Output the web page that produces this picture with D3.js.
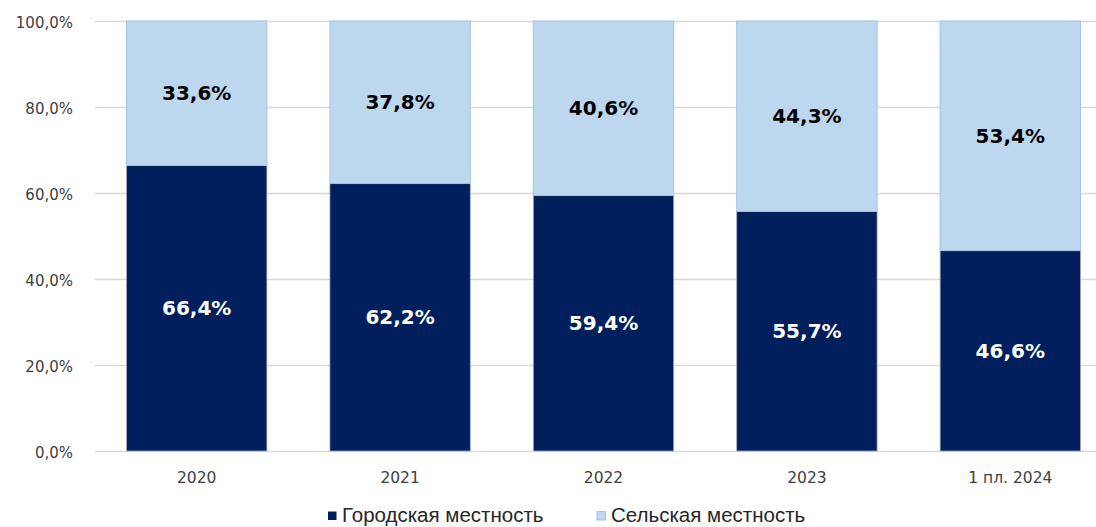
<!DOCTYPE html>
<html>
<head>
<meta charset="utf-8">
<script src="https://cdn.jsdelivr.net/npm/d3@7"></script>
<style>
  body { margin: 0; background: #fff; }
  svg { display: block; }
</style>
</head>
<body>
<svg id="chart" width="1096" height="527"></svg>
<script>
// data
var categories = ["2020", "2021", "2022", "2023", "1 пл. 2024"];
var urban = [66.4, 62.2, 59.4, 55.7, 46.6];   // Городская местность
var rural = [33.6, 37.8, 40.6, 44.3, 53.4];   // Сельская местность
var seriesNames = ["Городская местность", "Сельская местность"];
var yTicks = [0, 20, 40, 60, 80, 100];

var svg = d3.select("#chart");
// note: "top" is taken by window.top, so use plotTop
var plotTop = 21, plotBottom = 451, plotLeft = 95, plotRight = 1112;

var x = d3.scaleBand()
    .domain(categories)
    .range([plotLeft, plotRight])
    .paddingInner(0.31)
    .paddingOuter(0.155);

var y = d3.scaleLinear()
    .domain([0, 100])
    .range([plotBottom, plotTop]);

var fmt = function(v) { return v.toFixed(1).replace(".", ",") + "%"; };

// gridlines
svg.append("g")
  .selectAll("line")
  .data(yTicks)
  .enter()
  .append("line")
    .attr("x1", plotLeft)
    .attr("x2", plotRight)
    .attr("y1", function(d) { return y(d) + 0.5 })
    .attr("y2", function(d) { return y(d) + 0.5 })
    .attr("stroke", "#d9d9d9")
    .attr("stroke-width", 1.5);

// y axis labels
var yAxis = d3.axisLeft(y).tickValues(yTicks).tickSize(0).tickPadding(22).tickFormat(fmt);
svg.append("g")
  .attr("transform", "translate(" + plotLeft + ",0)")
  .call(yAxis)
  .call(function(g) { g.select(".domain").remove() })
  .selectAll("text")
    .attr("dy", "0.4em")
    .attr("font-family", "DejaVu Sans, Verdana, sans-serif")
    .attr("font-size", 15)
    .attr("fill", "#404040");

// x axis labels
var xAxis = d3.axisBottom(x).tickSize(0).tickPadding(21);
svg.append("g")
  .attr("transform", "translate(0," + plotBottom + ")")
  .call(xAxis)
  .call(function(g) { g.select(".domain").remove() })
  .selectAll("text")
    .attr("font-family", "DejaVu Sans, Verdana, sans-serif")
    .attr("font-size", 15.5)
    .attr("fill", "#404040");

var rows = categories.map(function(c, i) { return { cat: c, urban: urban[i], rural: rural[i] } });

// urban bars
svg.append("g")
  .selectAll("rect")
  .data(rows)
  .enter()
  .append("rect")
    .attr("x", function(d) { return x(d.cat) })
    .attr("width", x.bandwidth())
    .attr("y", function(d) { return y(d.urban) })
    .attr("height", function(d) { return y(0) - y(d.urban) })
    .attr("fill", "#001f5c")
    .attr("stroke", "#a6a6b8")
    .attr("stroke-width", 0.8);

// rural bars
svg.append("g")
  .selectAll("rect")
  .data(rows)
  .enter()
  .append("rect")
    .attr("x", function(d) { return x(d.cat) })
    .attr("width", x.bandwidth())
    .attr("y", function(d) { return y(d.urban + d.rural) })
    .attr("height", function(d) { return y(d.urban) - y(d.urban + d.rural) })
    .attr("fill", "#bdd7ee")
    .attr("stroke", "#9dc3e6")
    .attr("stroke-width", 1);

// data labels
var labels = svg.append("g")
  .attr("font-family", "DejaVu Sans, Verdana, sans-serif")
  .attr("font-weight", "bold")
  .attr("font-size", 20)
  .attr("text-anchor", "middle");

labels.selectAll(".lu")
  .data(rows)
  .enter()
  .append("text")
    .attr("x", function(d) { return x(d.cat) + x.bandwidth() / 2 })
    .attr("y", function(d) { return (y(0) + y(d.urban)) / 2 })
    .attr("dy", "0.36em")
    .attr("fill", "#ffffff")
    .text(function(d) { return fmt(d.urban) });

labels.selectAll(".lr")
  .data(rows)
  .enter()
  .append("text")
    .attr("x", function(d) { return x(d.cat) + x.bandwidth() / 2 })
    .attr("y", function(d) { return (y(d.urban) + y(d.urban + d.rural)) / 2 })
    .attr("dy", "0.36em")
    .attr("fill", "#000000")
    .text(function(d) { return fmt(d.rural) });

// legend
var legendColors = ["#001f5c", "#bdd7ee"];
var legendX = [328, 597];
var legend = svg.append("g");
seriesNames.forEach(function(name, i) {
  legend.append("rect")
    .attr("x", legendX[i])
    .attr("y", 511.5)
    .attr("width", 8.5)
    .attr("height", 8.5)
    .attr("fill", legendColors[i])
    .attr("stroke", i === 1 ? "#9dc3e6" : "none");
  legend.append("text")
    .attr("x", legendX[i] + 14)
    .attr("y", 522)
    .attr("font-family", "Liberation Sans, Arial, sans-serif")
    .attr("font-size", 20.5)
    .attr("fill", "#262626")
    .text(name);
});
</script>
</body>
</html>
